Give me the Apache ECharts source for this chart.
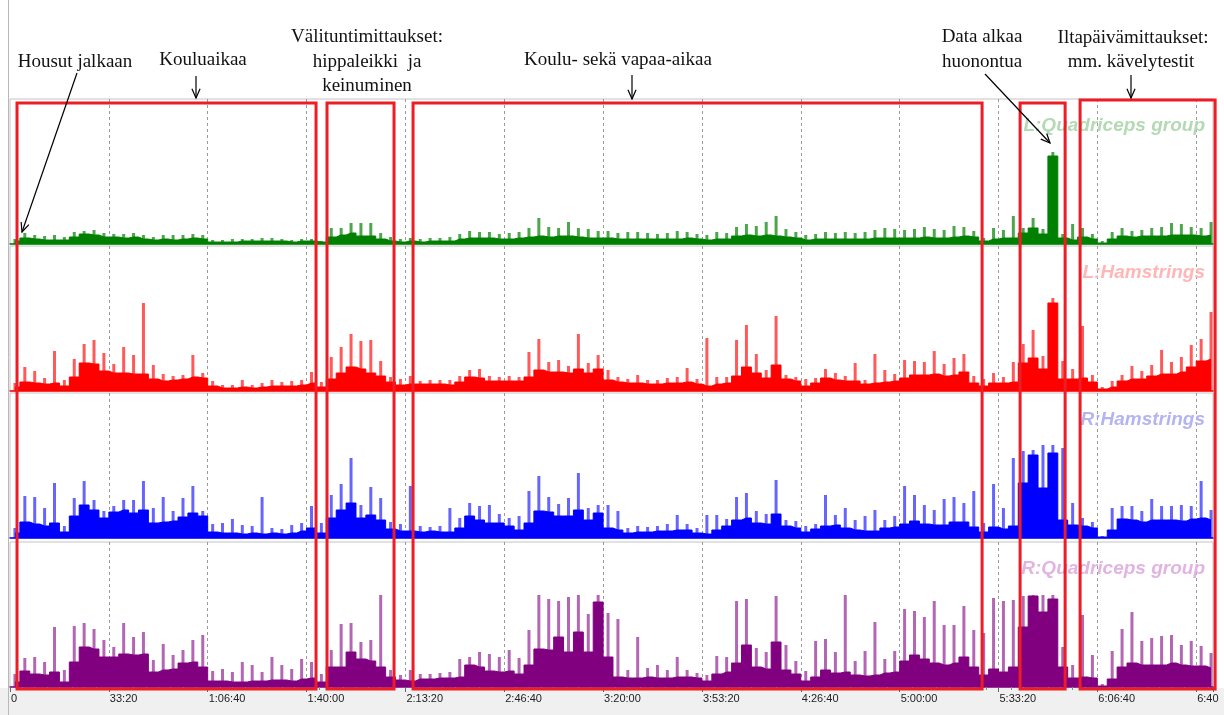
<!DOCTYPE html>
<html><head><meta charset="utf-8">
<script src="https://cdn.jsdelivr.net/npm/echarts@6/dist/echarts.min.js"></script>
<style>html,body{margin:0;padding:0;background:#fff}#c{width:1224px;height:715px}</style>
</head><body><div id="c"></div>
<script>
// ---- data (EMG amplitude per 200 s bin, body level and peak spike) ----
const BIN_SECONDS = 200;
const X_MAX = 24340;
const tickLabels = ['0','33:20','1:06:40','1:40:00','2:13:20','2:46:40','3:20:00','3:53:20','4:26:40','5:00:00','5:33:20','6:06:40','6:40'];
const channelNames = ['L:Quadriceps group','L:Hamstrings','R:Hamstrings','R:Quadriceps group'];

const lqBody = [3,6,5,4,4,4,7,10,9,7,7,6,7,5,4,5,4,5,6,5,2,2,2,3,3,3,3,3,2,3,3,2,7,9,11,8,8,5,3,2,3,2,3,3,3,5,6,6,6,5,5,6,7,8,7,8,8,7,6,6,6,5,5,5,5,5,5,5,6,5,4,5,5,8,9,8,9,8,7,6,4,5,5,5,5,5,5,6,6,6,6,6,7,6,6,7,8,7,3,5,6,6,11,16,10,88,6,4,7,5,1,5,8,7,8,8,8,9,9,9,8,9];
const lqPeak = [5,11,9,8,9,7,12,13,14,11,10,10,11,9,7,9,9,9,10,9,4,4,5,5,5,6,6,5,4,5,5,3,16,16,21,21,21,11,7,5,6,5,6,6,7,10,13,12,12,10,11,12,16,26,17,16,22,16,15,13,13,11,12,12,11,10,11,13,12,10,9,12,11,17,20,18,22,28,15,12,9,10,12,11,12,11,12,14,16,15,14,15,17,15,14,18,17,13,6,16,14,28,16,26,15,92,10,20,16,10,3,12,16,13,14,16,17,21,20,17,16,22];

const lhBody = [4,9,8,7,8,5,14,28,27,20,18,18,17,17,12,10,11,12,14,13,5,3,3,4,3,4,5,5,5,6,8,4,12,18,24,22,18,15,9,6,7,7,7,7,6,9,14,13,10,10,10,10,14,21,19,19,18,22,18,22,11,9,8,8,7,7,8,8,9,7,5,7,8,15,24,18,13,26,12,10,5,8,13,11,10,10,7,8,9,10,13,16,16,17,15,16,19,8,5,8,8,9,28,33,22,88,12,12,13,9,2,4,10,12,12,15,17,17,19,24,30,32];
const lhPeak = [8,24,20,13,40,11,32,47,51,38,27,44,36,88,26,17,15,16,36,18,10,6,6,11,6,8,11,9,10,11,19,9,34,44,57,50,51,30,14,12,15,10,11,11,11,15,21,22,15,14,15,14,39,52,29,31,25,57,28,36,21,14,12,16,11,11,13,14,23,12,53,14,14,51,66,37,21,75,16,14,12,13,22,18,15,28,11,37,21,17,31,30,29,40,27,33,37,15,12,18,14,29,47,61,35,93,30,22,65,16,4,10,16,25,20,26,41,29,34,46,52,79];

const rhBody = [5,16,14,12,15,6,22,33,28,20,26,28,25,28,15,16,17,21,25,22,6,5,5,4,5,4,5,4,5,7,10,5,20,28,35,20,23,18,9,7,7,6,7,6,6,10,22,18,15,15,12,8,15,27,26,22,22,28,18,25,10,8,5,6,6,7,7,8,8,5,4,8,12,18,20,15,14,24,12,10,6,9,12,13,10,8,7,7,10,11,14,17,14,13,13,16,16,11,6,11,9,12,55,83,50,85,18,13,12,10,1,8,19,18,16,18,18,18,17,19,20,18];
const rhPeak = [10,42,41,30,55,12,40,57,38,27,32,38,38,57,30,41,27,40,52,27,14,15,19,13,12,41,10,9,13,15,32,15,43,54,80,33,51,40,16,14,52,12,11,12,30,20,35,32,33,24,20,22,47,62,41,34,40,65,30,33,33,27,10,12,11,12,14,23,14,10,23,23,19,41,45,27,24,58,18,17,12,14,43,23,30,18,22,28,18,22,52,43,33,28,39,41,35,47,15,54,30,80,87,88,93,93,90,35,20,16,2,30,32,32,27,39,32,32,33,32,57,28];

const rqBody = [5,16,13,12,15,5,25,40,38,30,30,33,32,33,15,17,18,24,25,20,6,6,5,5,6,6,7,7,6,8,9,5,20,20,35,28,26,20,10,7,6,8,8,9,9,10,22,20,16,15,16,13,22,38,37,50,35,55,35,85,30,10,9,9,10,9,9,10,10,9,6,13,15,24,42,20,18,45,17,13,6,10,17,14,15,12,11,12,14,15,26,32,28,24,22,24,30,20,12,18,15,20,60,91,75,88,20,9,10,9,1,8,20,24,22,22,22,24,22,21,21,19];
const rqPeak = [13,29,30,25,60,17,61,64,58,47,40,64,50,55,27,43,32,37,47,52,16,18,15,25,22,15,30,22,18,28,25,13,37,63,64,45,47,92,17,12,17,13,13,14,15,28,30,35,33,30,37,29,57,92,88,86,90,92,73,92,74,68,17,50,19,22,17,30,17,14,12,31,30,86,88,39,35,91,42,26,16,46,48,35,92,26,36,65,28,36,78,76,70,86,62,62,81,57,54,89,86,87,91,92,92,92,40,22,72,32,3,36,58,75,46,49,51,52,42,46,41,34];

const channels = [
  {body: lqBody, peak: lqPeak},
  {body: lhBody, peak: lhPeak},
  {body: rhBody, peak: rhPeak},
  {body: rqBody, peak: rqPeak}
];

// annotation spans (seconds) of the red boxes
const boxStart = [142, 6414, 8155, 20437, 21651];
const boxEnd   = [6192, 7770, 19668, 21348, 24383];

// ---- styling / layout ----
const colors = ['#008000','#ff0000','#0000ff','#800080'];
const spikeColors = ['rgba(0,128,0,0.7)','rgba(255,0,0,0.65)','rgba(0,0,255,0.6)','rgba(128,0,128,0.6)'];
const labelColors = ['#b4dab4','#ffb6b6','#b4b4f2','#e2b4e2'];
const panelTop = [99, 246, 393, 542];
const panelH = 145;
const binCenter = i => i * BIN_SECONDS + BIN_SECONDS / 2;

const chart = echarts.init(document.getElementById('c'), null, {renderer: 'canvas'});

const grids = panelTop.map(top => ({left: 10, right: 11, top: top, height: panelH, show: true,
  backgroundColor: '#fff', borderColor: '#c4c4c4', borderWidth: 1}));

const xAxes = panelTop.map((_, k) => ({
  gridIndex: k, type: 'value', min: 0, max: X_MAX, interval: 2000,
  axisLine: {show: true, onZero: false, lineStyle: {color: colors[k], width: 1.5}},
  axisTick: {show: k === 3, length: 5, lineStyle: {color: '#666'}},
  minorTick: {show: k === 3, splitNumber: 8, length: 3, lineStyle: {color: '#888'}},
  axisLabel: {show: k === 3, align: 'left', margin: 6, padding: [0,0,0,1], color: '#222',
    fontFamily: 'Liberation Sans', fontSize: 11,
    formatter: v => (v % 2000 === 0 && v / 2000 < tickLabels.length) ? tickLabels[v / 2000] : ''},
  splitLine: {show: true, showMinLine: false, showMaxLine: false,
    lineStyle: {color: '#9a9a9a', type: [3, 3], width: 1}}
}));

const yAxes = panelTop.map((_, k) => ({gridIndex: k, type: 'value', min: 0, max: panelH, show: false}));

const series = [];
channels.forEach((ch, k) => {
  series.push({
    type: 'bar', xAxisIndex: k, yAxisIndex: k, barWidth: 3, silent: true, z: 2,
    itemStyle: {color: spikeColors[k]},
    data: ch.peak.map((v, i) => [binCenter(i), v])
  });
  series.push({
    type: 'line', step: 'middle', xAxisIndex: k, yAxisIndex: k, symbol: 'none', silent: true, z: 3,
    lineStyle: {color: colors[k], width: 1},
    areaStyle: {color: colors[k], opacity: 1},
    data: ch.body.map((v, i) => [binCenter(i), v])
  });
});

chart.setOption({animation: false, grid: grids, xAxis: xAxes, yAxis: yAxes, series: series});

// ---- annotations ----
const serif = '19px "Liberation Serif", "Times New Roman", serif';
const notes = [
  ['Housut jalkaan', 75, 62], ['Kouluaikaa', 203, 60],
  ['Välituntimittaukset:', 367, 37], ['hippaleikki  ja', 367, 62], ['keinuminen', 367, 86],
  ['Koulu- sekä vapaa-aikaa', 618, 60],
  ['Data alkaa', 982, 37], ['huonontua', 982, 62],
  ['Iltapäivämittaukset:', 1133, 38], ['mm. kävelytestit', 1131, 62]
];
function arrow(x1, y1, x2, y2) {
  const a = Math.atan2(y2 - y1, x2 - x1), L = 10, w = 0.42;
  return [
    {type: 'line', z: 120, shape: {x1, y1, x2, y2}, style: {stroke: '#000', lineWidth: 1.2}},
    {type: 'polyline', z: 120, shape: {points: [[x2 - L * Math.cos(a - w), y2 - L * Math.sin(a - w)], [x2, y2],
      [x2 - L * Math.cos(a + w), y2 - L * Math.sin(a + w)]]}, style: {stroke: '#000', lineWidth: 1.2, fill: null}}
  ];
}
const g = [];
g.push({type: 'rect', z: -10, shape: {x: 0, y: 688, width: 1224, height: 27}, style: {fill: '#f0f0f0'}});
g.push({type: 'line', z: 5, shape: {x1: 8.5, y1: 0, x2: 8.5, y2: 715}, style: {stroke: '#b8b8b8', lineWidth: 1}});
notes.forEach(n => g.push({type: 'text', z: 120, x: n[1], y: n[2],
  style: {text: n[0], font: serif, fill: '#111', textAlign: 'center', textVerticalAlign: 'middle'}}));
channelNames.forEach((name, k) => g.push({type: 'text', z: 60, x: 1205, y: panelTop[k] + 27,
  style: {text: name, font: 'italic bold 19px "Liberation Sans", Arial, sans-serif', fill: labelColors[k],
    textAlign: 'right', textVerticalAlign: 'middle'}}));
const boxTop = [103, 103, 103, 103, 100];
boxStart.forEach((s, i) => {
  const x1 = chart.convertToPixel({xAxisIndex: 0}, s);
  const x2 = chart.convertToPixel({xAxisIndex: 0}, boxEnd[i]);
  g.push({type: 'rect', z: 100, shape: {x: x1, y: boxTop[i], width: x2 - x1, height: 689 - boxTop[i]},
    style: {fill: null, stroke: '#ee1c24', lineWidth: 3}});
});
[[77, 73, 22, 232], [196, 76, 196, 98], [632, 75, 632, 99], [985, 74, 1050, 143], [1131, 75, 1131, 98]]
  .forEach(a => g.push(...arrow(...a)));
chart.setOption({graphic: g});
</script></body></html>
